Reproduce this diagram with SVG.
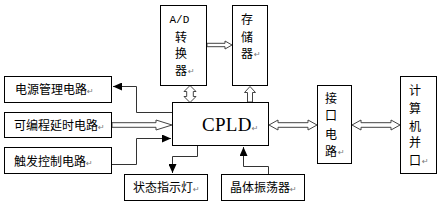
<svg xmlns="http://www.w3.org/2000/svg" width="447" height="208" viewBox="0 0 447 208">
<style>
.box{fill:#fff;stroke:#000;stroke-width:1}
.t{font-family:"Noto Sans CJK SC","Noto Sans",sans-serif;font-size:12px;fill:#000}
.v{font-family:"Noto Sans CJK SC","Noto Sans",sans-serif;font-size:12px;fill:#000;text-anchor:middle}
.ret{font-family:"DejaVu Sans",sans-serif;font-size:8px;fill:#777}
.ln{fill:none;stroke:#333;stroke-width:1}
.ha{fill:#fff;stroke:#444;stroke-width:1}
</style>
<defs>
<marker id="ah" markerUnits="userSpaceOnUse" markerWidth="9" markerHeight="8" refX="9" refY="4" viewBox="0 0 9 8" orient="auto">
<path d="M0,0 L9,4 L0,8 z" fill="#000"/>
</marker>
</defs>
<g id="connectors">
<polyline class="ln" points="172,112.5 136.5,112.5 136.5,86.5 113,86.5" marker-end="url(#ah)"/>
<polyline class="ln" points="112,164.5 136.5,164.5 136.5,138.5 171,138.5" marker-end="url(#ah)"/>
<polyline class="ln" points="197.5,146 197.5,156.5 172.5,156.5 172.5,173" marker-end="url(#ah)"/>
<polyline class="ln" points="268.5,174 268.5,166.5 243.5,166.5 243.5,147" marker-end="url(#ah)"/>
<polygon class="ha" points="112,122.7 156,122.7 156,120 172,125 156,130 156,127.3 112,127.3"/>
<polygon class="ha" points="207,43.3 225,43.3 225,41 232,45 225,49 225,46.7 207,46.7"/>
<polygon class="ha" points="190,85.5 196,91.5 193.3,91.5 193.3,96.5 196,96.5 190,102.5 184,96.5 186.7,96.5 186.7,91.5 184,91.5"/>
<polygon class="ha" points="250,86.5 255.5,92.5 252.5,92.5 252.5,102 247.5,102 247.5,92.5 244.5,92.5"/>
<polygon class="ha" points="269,125 278,120 278,122.7 308,122.7 308,120 317,125 308,130 308,127.3 278,127.3 278,130"/>
<polygon class="ha" points="352,125 361,120 361,122.7 391,122.7 391,120 400,125 391,130 391,127.3 361,127.3 361,130"/>
</g>
<g id="ad">
<rect class="box" x="160.5" y="5.5" width="46" height="80"/>
<text x="169.5" y="23" style="font-family:'Liberation Mono',monospace;font-size:11px">A/D</text>
<text class="v" x="181" y="41.5">转</text>
<text class="v" x="181" y="57.5">换</text>
<text class="v" x="181" y="74.5">器</text>
<text class="ret" x="188" y="74">↵</text>
</g>
<g id="mem">
<rect class="box" x="232.5" y="5.5" width="35" height="80"/>
<text class="v" x="247" y="23.5">存</text>
<text class="v" x="247" y="41.5">储</text>
<text class="v" x="247" y="57.5">器</text>
<text class="ret" x="254" y="57">↵</text>
</g>
<g id="power">
<rect class="box" x="4.5" y="76.5" width="107" height="26"/>
<text class="t" x="15" y="93.5">电源管理电路<tspan class="ret">↵</tspan></text>
</g>
<g id="delay">
<rect class="box" x="4.5" y="112.5" width="107" height="25"/>
<text class="t" x="14" y="129.5">可编程延时电路<tspan class="ret">↵</tspan></text>
</g>
<g id="trigger">
<rect class="box" x="4.5" y="147.5" width="107" height="26"/>
<text class="t" x="14" y="165.5">触发控制电路<tspan class="ret">↵</tspan></text>
</g>
<g id="cpld">
<rect class="box" x="172.5" y="102.5" width="96" height="43"/>
<text x="202" y="131" style="font-family:'Liberation Serif',serif;font-size:19px;letter-spacing:0.3px">CPLD<tspan class="ret">↵</tspan></text>
</g>
<g id="status">
<rect class="box" x="124.5" y="174.5" width="83" height="26"/>
<text class="t" x="133" y="191.5">状态指示灯<tspan class="ret">↵</tspan></text>
</g>
<g id="crystal">
<rect class="box" x="221.5" y="174.5" width="83" height="26"/>
<text class="t" x="230" y="191.5">晶体振荡器<tspan class="ret">↵</tspan></text>
</g>
<g id="iface">
<rect class="box" x="317.5" y="85.5" width="34" height="78"/>
<text class="v" x="331" y="102.5">接</text>
<text class="v" x="331" y="119.5">口</text>
<text class="v" x="331" y="138.5">电</text>
<text class="v" x="331" y="155.5">路</text>
<text class="ret" x="338" y="155">↵</text>
</g>
<g id="pc">
<rect class="box" x="400.5" y="76.5" width="36" height="97"/>
<text class="v" x="415" y="94.5">计</text>
<text class="v" x="415" y="112.5">算</text>
<text class="v" x="415" y="130.5">机</text>
<text class="v" x="415" y="146.5">并</text>
<text class="v" x="415" y="164.5">口</text>
<text class="ret" x="422" y="164">↵</text>
</g>
</svg>
